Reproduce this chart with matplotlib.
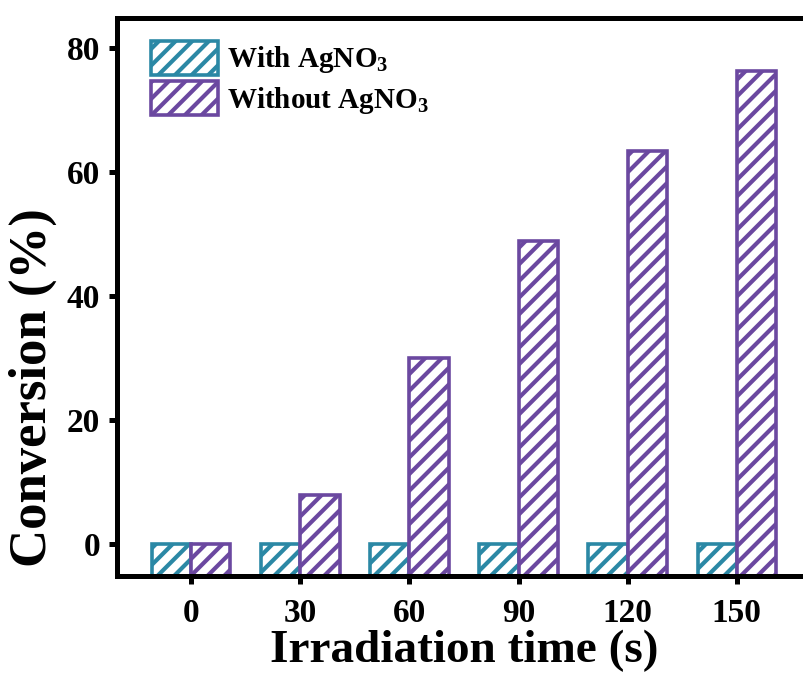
import matplotlib
matplotlib.use("Agg")
import matplotlib.pyplot as plt
import numpy as np

categories = ["0", "30", "60", "90", "120", "150"]
with_agno3 = [0, 0, 0, 0, 0, 0]
without_agno3 = [0, 7.9, 30.0, 48.8, 63.4, 76.3]
series_labels = ["With AgNO$_3$", "Without AgNO$_3$"]
yticks = [0, 20, 40, 60, 80]

plt.rcParams['font.family'] = ['Liberation Serif', 'DejaVu Serif']
plt.rcParams['font.weight'] = 'bold'
plt.rcParams['mathtext.fontset'] = 'custom'
plt.rcParams['mathtext.rm'] = 'Liberation Serif:bold'
plt.rcParams['mathtext.it'] = 'Liberation Serif:bold'
plt.rcParams['mathtext.bf'] = 'Liberation Serif:bold'
plt.rcParams['mathtext.default'] = 'rm'
plt.rcParams['hatch.linewidth'] = 3.0

teal = '#2B88A5'
purple = '#6B48A0'

fig = plt.figure(figsize=(8.04, 6.84), dpi=100)
ax = fig.add_axes([117/804, 1-576/684, (811-117)/804, (576-18)/684])

ymin, ymax = -5.2, 84.8
x = np.arange(len(categories))
w = 0.36
wa = np.array(with_agno3, dtype=float)
wo = np.array(without_agno3, dtype=float)
ax.bar(x - w/2, wa - ymin, bottom=ymin, width=w, facecolor='white', edgecolor=teal,
       hatch='//', linewidth=2.6, label=series_labels[0])
ax.bar(x + w/2, wo - ymin, bottom=ymin, width=w, facecolor='white', edgecolor=purple,
       hatch='//', linewidth=2.6, label=series_labels[1])

ax.set_xlim(-0.68, 5.68)
ax.set_ylim(ymin, ymax)
ax.set_xticks(x)
ax.set_xticklabels(categories)
ax.set_yticks(yticks)

for s in ['left', 'bottom', 'top', 'right']:
    ax.spines[s].set_linewidth(3.6)
ax.tick_params(axis='both', direction='out', length=6, width=3.6, labelsize=24, pad=6)
ax.tick_params(axis='x', pad=10)

ax.set_xlabel('Irradiation time (s)', fontsize=34, fontweight='bold', labelpad=0)
ax.set_ylabel('Conversion (%)', fontsize=38, fontweight='bold')
ax.yaxis.set_label_coords(-0.086, 0.337)

leg = ax.legend(loc='upper left', bbox_to_anchor=(0.032, 0.98), frameon=False,
                fontsize=21, handlelength=2.3, handleheight=1.4, handletextpad=0.3,
                labelspacing=0.2, borderaxespad=0.0)

fig.savefig('out.png', dpi=100)
